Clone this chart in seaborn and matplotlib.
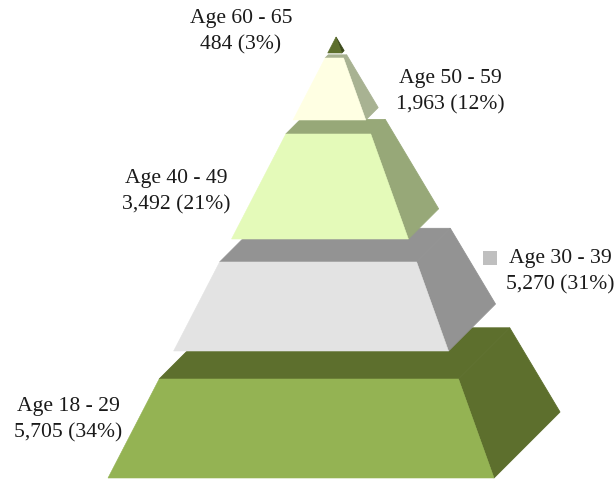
import matplotlib
matplotlib.use("Agg")
import matplotlib.pyplot as plt
import numpy as np
import pandas as pd
import seaborn as sns

# bottom of the pyramid first
age_groups = ["Age 18 - 29", "Age 30 - 39", "Age 40 - 49", "Age 50 - 59", "Age 60 - 65"]
counts = [5705, 5270, 3492, 1963, 484]
shares = [34, 31, 21, 12, 3]

# where each band starts and ends on the picture's height (px from top)
band_bottom = [478, 351, 239, 120, 53]
band_top = [379, 262, 134, 58, 37]

front_colors = ["#94B353", "#E3E3E3", "#E4FAB9", "#FFFFE3", "#5D6F2D"]
side_colors = ["#5D6F2D", "#939393", "#97A878", "#A8B292", "#3C4A1C"]

label_x = [68, 560, 176, 450, 241]
label_y = [420, 272, 192, 92, 32]

sns.set_theme(style="white")
plt.rcParams["font.family"] = ["Liberation Serif", "DejaVu Serif"]

APEX = (336, 37)
BASE_Y = 478
BASE_LEFT = 108
BASE_RIGHT = 494
DEPTH = 0.171


def edges(y):
    t = (BASE_Y - y) / (BASE_Y - APEX[1])
    left = BASE_LEFT + (APEX[0] - BASE_LEFT) * t
    right = BASE_RIGHT + (APEX[0] - BASE_RIGHT) * t
    return left, right


def draw_band(ax, bottom, top, front, side):
    bl, br = edges(bottom)
    tl, tr = edges(top)
    d_b = (br - bl) * DEPTH
    d_t = (tr - tl) * DEPTH
    # right side, then the lid, then the front face
    ax.fill([br, br + d_b, tr + d_t, tr], [bottom, bottom - d_b, top - d_t, top],
            color=side, lw=0.6, zorder=2)
    ax.fill([tl, tl + d_t, tr + d_t, tr], [top, top - d_t, top - d_t, top],
            color=side, lw=0.6, zorder=2)
    ax.fill([bl, br, tr, tl], [bottom, bottom, top, top], color=front, lw=0.4, zorder=3)


fig, ax = plt.subplots(figsize=(6.15, 4.8), dpi=100)
fig.subplots_adjust(0, 0, 1, 1)
ax.set_xlim(0, 615)
ax.set_ylim(480, 0)
ax.axis("off")

for i in range(len(age_groups)):
    draw_band(ax, band_bottom[i], band_top[i], front_colors[i], side_colors[i])

labels = pd.DataFrame({"group": age_groups, "count": counts, "share": shares,
                       "x": label_x, "y": label_y})
for _, row in labels.iterrows():
    ax.text(row["x"], row["y"], f"{row['group']}\n{row['count']:,} ({row['share']}%)",
            ha="center", va="center", fontsize=15.6, color="#1a1a1a", linespacing=1.52, zorder=5)

# the one leftover legend key beside the 30-39 label
sns.scatterplot(x=[490], y=[258], marker="s", s=110, color="#BFBFBF", linewidth=0,
                ax=ax, zorder=4, legend=False)
ax.set_xlim(0, 615)
ax.set_ylim(480, 0)

fig.savefig("out.png", dpi=100)
